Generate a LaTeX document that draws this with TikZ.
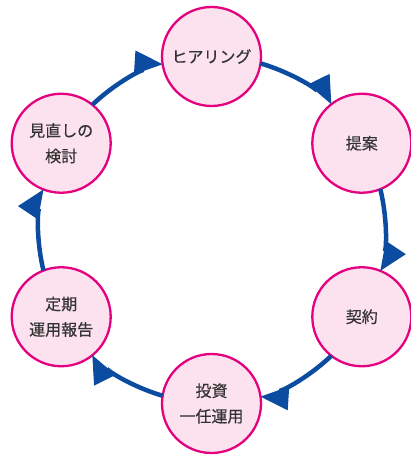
\documentclass[tikz,border=0pt]{standalone}
\usepackage{fontspec}
\setmainfont{Noto Sans CJK JP}
\newfontface\jpmed{Noto Sans CJK JP}[FakeBold=0.4]
\definecolor{ringblue}{RGB}{12,76,160}
\definecolor{circpink}{RGB}{252,226,238}
\definecolor{circmag}{RGB}{228,0,127}
\definecolor{txtgray}{RGB}{51,51,51}
\begin{document}
\begin{tikzpicture}[x=1pt,y=1pt,
  stage/.style={circle, draw=circmag, fill=circpink, line width=2.3pt,
    minimum size=99pt, inner sep=0pt, outer sep=0pt, text=txtgray,
    font=\jpmed\fontsize{16}{25.5}\selectfont, align=center},
  flow/.style={draw=ringblue, line width=4.5pt, looseness=0.864, shorten >=20pt},
  head/.style={fill=ringblue}
]
\useasboundingbox (0,0) rectangle (411,457);
\node[stage] (hear) at (211.5,400.5) {ヒアリング};
\node[stage] (prop) at (361.8,313.75) {提案};
\node[stage] (cont) at (361.8,140.25) {契約};
\node[stage] (inv)  at (211.5,53.5)  {投資\\一任運用};
\node[stage] (rep)  at (61.2,140.25) {定期\\運用報告};
\node[stage] (rev)  at (61.2,313.75) {見直しの\\検討};
% connectors (arcs of the ring)
\draw[flow] (hear.-8.2)   to[out=-16.4, in=136.4] (prop.128.2);
\draw[flow] (prop.-68.2)  to[out=-76.4, in=76.4]  (cont.68.2);
\draw[flow] (cont.-128.2) to[out=-136.4, in=16.4] (inv.8.2);
\draw[flow] (inv.171.8)   to[out=163.6, in=-43.6] (rep.-51.8);
\draw[flow] (rep.111.8)   to[out=103.6, in=-103.6] (rev.-111.8);
\draw[flow] (rev.51.8)    to[out=43.6, in=-163.6] (hear.-171.8);
% arrowheads
\fill[head] (prop.128.2)  -- +(139.6:30.46) -- +(93.2:30.46) -- cycle;
\fill[head] (cont.68.2)   -- +(79.6:30.46)  -- +(33.2:30.46) -- cycle;
\fill[head] (inv.8.2)     -- +(19.6:30.46)  -- +(-26.8:30.46) -- cycle;
\fill[head] (rep.-51.8)   -- +(-40.4:30.46) -- +(-86.8:30.46) -- cycle;
\fill[head] (rev.-111.8)  -- +(-100.4:30.46) -- +(-146.8:30.46) -- cycle;
\fill[head] (hear.-171.8) -- +(199.6:30.46) -- +(153.2:30.46) -- cycle;
\end{tikzpicture}
\end{document}
